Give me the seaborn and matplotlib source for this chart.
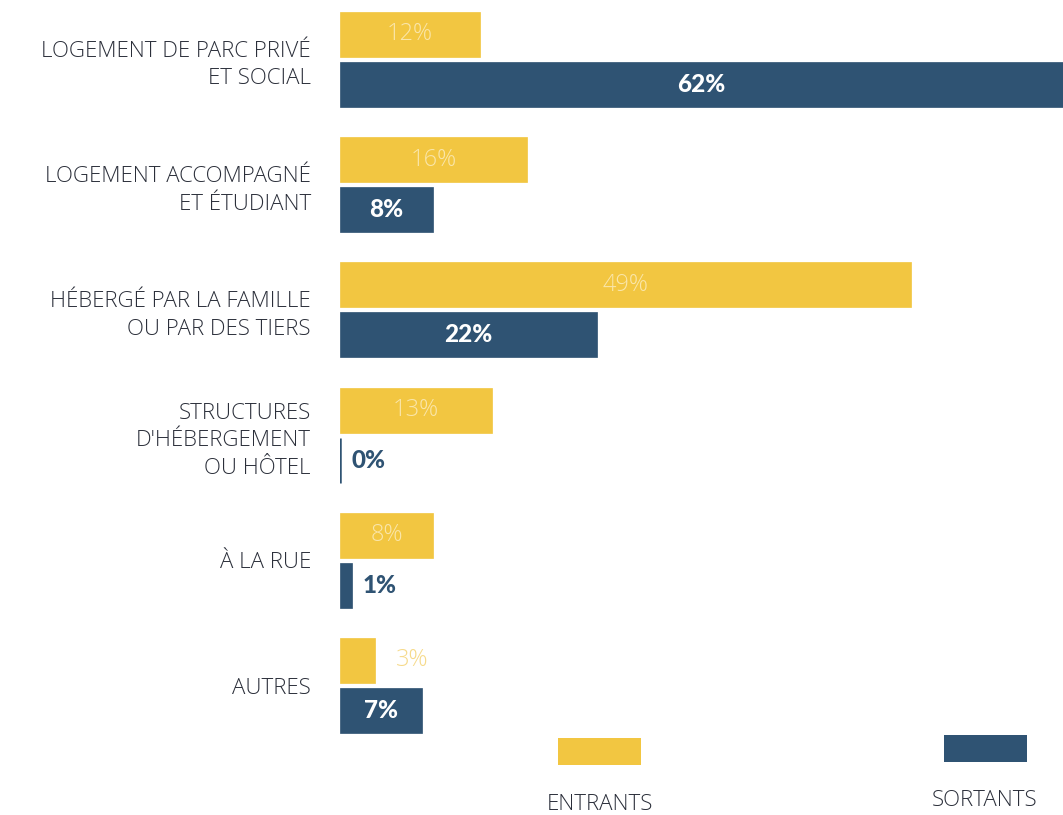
import matplotlib
matplotlib.use("Agg")
import matplotlib.pyplot as plt
from matplotlib.patches import Rectangle
import seaborn as sns
import pandas as pd

categories = [
    "LOGEMENT DE PARC PRIVÉ\nET SOCIAL",
    "LOGEMENT ACCOMPAGNÉ\nET ÉTUDIANT",
    "HÉBERGÉ PAR LA FAMILLE\nOU PAR DES TIERS",
    "STRUCTURES\nD'HÉBERGEMENT\nOU HÔTEL",
    "À LA RUE",
    "AUTRES",
]
entrants = [12, 16, 49, 13, 8, 3]
sortants = [62, 8, 22, 0, 1, 7]
series = ["ENTRANTS", "SORTANTS"]

YELLOW = "#F2C641"
BLUE = "#2F5373"
TEXT = "#2B2F3A"

df = pd.DataFrame({
    "cat": categories * 2,
    "val": entrants + sortants,
    "serie": [series[0]] * len(categories) + [series[1]] * len(categories),
})

sns.set_theme(style="white")
plt.rcParams["font.family"] = ["Open Sans", "DejaVu Sans"]

W, H = 1063, 815
fig = plt.figure(figsize=(W / 100, H / 100), dpi=100)
ax_left = 340 / W
ax_w = 723 / W
ax = fig.add_axes([ax_left, 0, ax_w, 1])

sns.barplot(data=df, y="cat", x="val", hue="serie", hue_order=series,
            order=categories, palette=[YELLOW, BLUE], width=0.8, gap=0.1,
            orient="h", ax=ax, legend=False, saturation=1)

# make zero-width bars visible as a thin line
for cont, col in zip(ax.containers, [YELLOW, BLUE]):
    for p in cont:
        p.set_edgecolor(col)
        p.set_linewidth(1.8 if p.get_width() == 0 else 0.5)

step = 125.2
c0 = 59.5
ax.set_ylim(5 + (H - (c0 + 5 * step)) / step, -c0 / step)
ax.set_xlim(0, 62)

for s in ax.spines.values():
    s.set_visible(False)
ax.set_xticks([])
ax.set_xlabel("")
ax.set_ylabel("")
ax.tick_params(axis="y", length=0, pad=21)
for lab in ax.get_yticklabels():
    lab.set_fontsize(16)
    lab.set_color(TEXT)
    lab.set_fontweight("light")
    lab.set_linespacing(1.4)
    lab.set_ha("right")

thr = 5
cont_e, cont_s = ax.containers[0], ax.containers[1]
inside_e = [f"{v}%" if v >= thr else "" for v in entrants]
outside_e = [f"{v}%" if v < thr else "" for v in entrants]
ax.bar_label(cont_e, labels=inside_e, label_type="center", color="#FAE6AA",
             fontsize=17, fontweight="light")
ax.bar_label(cont_e, labels=outside_e, label_type="edge", padding=15,
             color="#F6DA8A", fontsize=17, fontweight="light")

inside_s = [f"{v}%" if v >= thr else "" for v in sortants]
outside_s = [f"{v}%" if v < thr else "" for v in sortants]
ax.bar_label(cont_s, labels=inside_s, label_type="center", color="white",
             fontsize=17.5, fontweight="black", family=["Lato", "DejaVu Sans"])
ax.bar_label(cont_s, labels=outside_s, label_type="edge", padding=8,
             color=BLUE, fontsize=17.5, fontweight="black", family=["Lato", "DejaVu Sans"])

# legend
def px_rect(x0, y0, x1, y1, color):
    fig.add_artist(Rectangle((x0 / W, 1 - y1 / H), (x1 - x0) / W, (y1 - y0) / H,
                             transform=fig.transFigure, facecolor=color,
                             edgecolor="none"))

px_rect(558, 738, 641, 765, YELLOW)
px_rect(944, 735, 1027, 762, BLUE)
fig.text(600 / W, 1 - 804 / H, series[0], ha="center", va="center",
         fontsize=16, color=TEXT, fontweight="light")
fig.text(985 / W, 1 - 801 / H, series[1], ha="center", va="center",
         fontsize=16, color=TEXT, fontweight="light")

fig.savefig("out.png", dpi=100, facecolor="white")
